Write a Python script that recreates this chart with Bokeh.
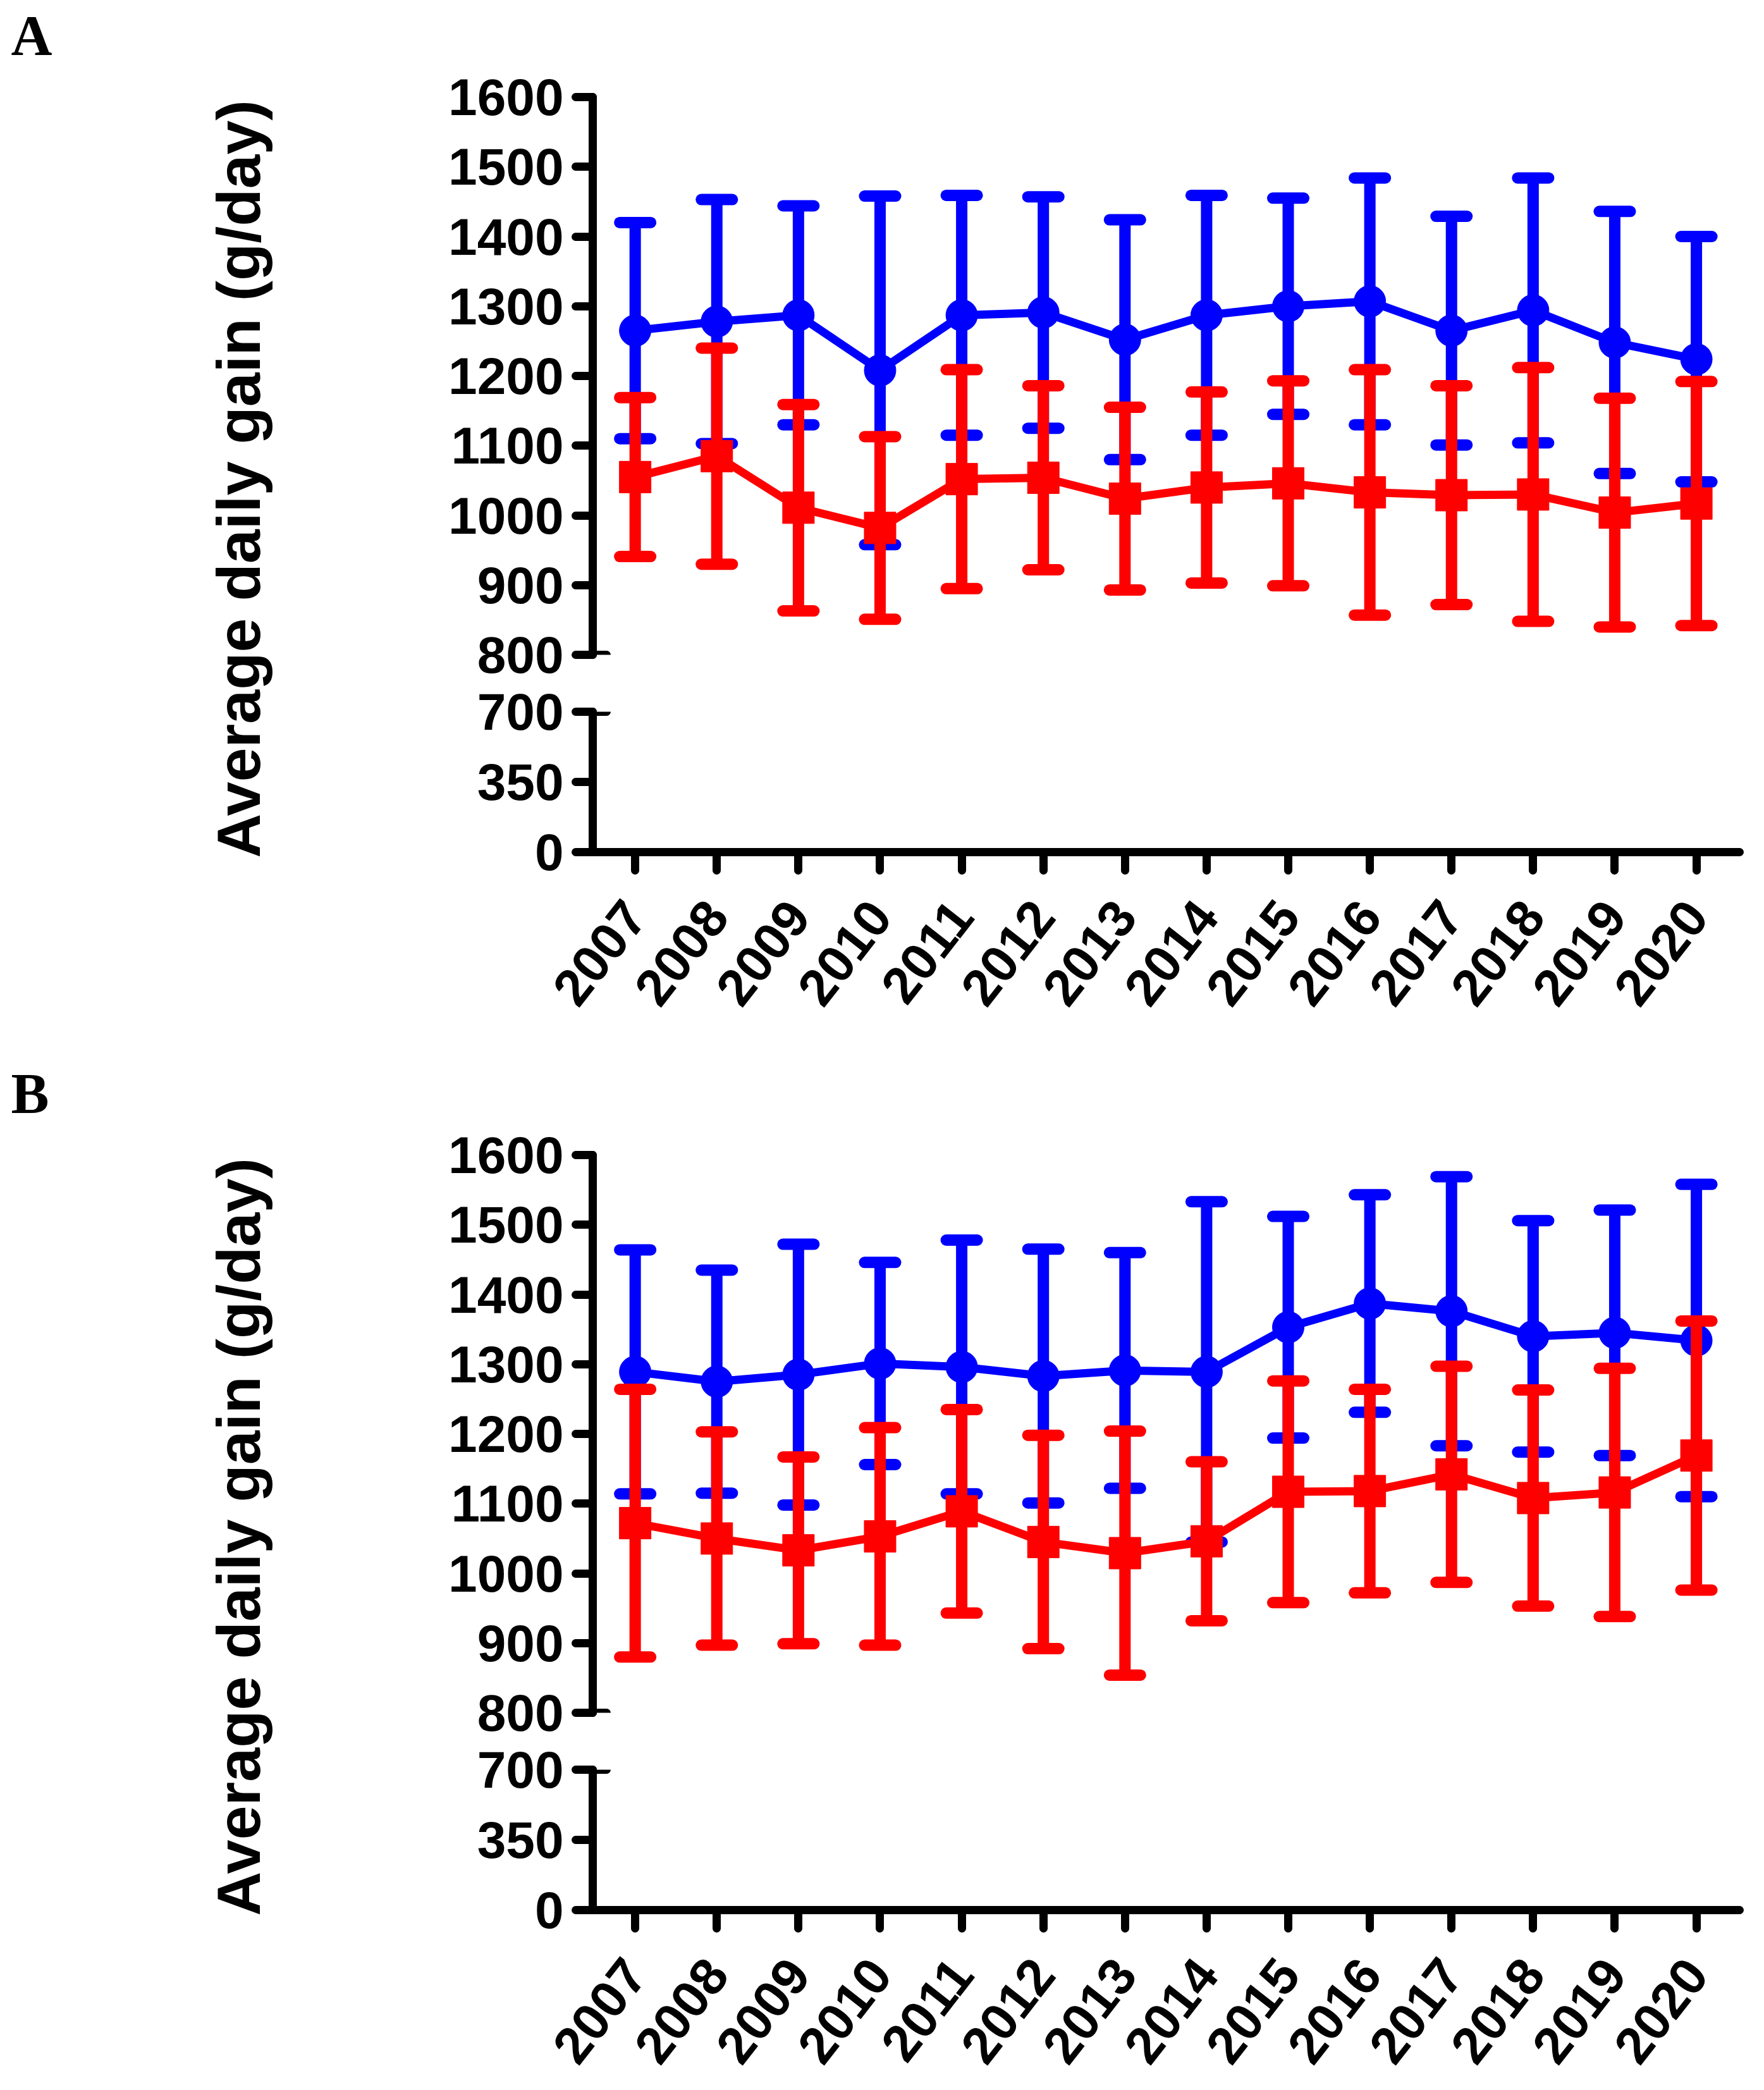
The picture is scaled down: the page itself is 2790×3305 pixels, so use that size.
import math
from bokeh.plotting import figure
from bokeh.layouts import row, column
from bokeh.models import Range1d, FixedTicker, ColumnDataSource
from bokeh.core.properties import value
from bokeh.embed import file_html
from bokeh.resources import INLINE

years = list(range(2007, 2021))

a_blue_mean = [1265, 1278, 1287, 1208, 1287, 1291, 1252, 1287, 1300, 1307, 1265, 1294, 1248, 1224]
a_blue_sd = [155, 175, 157, 250, 172, 166, 172, 172, 155, 177, 164, 190, 188, 176]
a_red_mean = [1055, 1085, 1011, 982, 1052, 1054, 1024, 1040, 1046, 1033, 1029, 1030, 1004, 1017]
a_red_sd = [114, 155, 148, 131, 157, 132, 131, 137, 147, 176, 157, 182, 164, 175]

b_blue_mean = [1289, 1275, 1285, 1301, 1296, 1283, 1291, 1289, 1353, 1387, 1376, 1340, 1345, 1334]
b_blue_sd = [175, 160, 187, 145, 182, 182, 169, 244, 159, 156, 193, 166, 176, 224]
b_red_mean = [1072, 1050, 1033, 1053, 1089, 1045, 1029, 1046, 1117, 1118, 1142, 1108, 1116, 1169]
b_red_sd = [192, 153, 134, 156, 146, 153, 175, 114, 159, 146, 155, 155, 178, 193]

upper_ticks = [800, 900, 1000, 1100, 1200, 1300, 1400, 1500, 1600]
lower_ticks = [0, 350, 700]
y_label = "Average daily gain (g/day)"

BLUE = "#0000FF"
RED = "#FF0000"
FONT = "Liberation Sans"
X0, X1 = 2006.48, 2020.53
CAP = 0.19

LBL_W = 500
FIG_W = 2271
B_LEFT = 437
TOP_H = 1080
TOP_BT = 153
TOP_BB = 45
LOW_BT = 45


def style_axis(ax):
    ax.axis_line_width = 13
    ax.axis_line_color = "black"
    ax.axis_line_cap = "round"
    ax.major_tick_line_width = 13
    ax.major_tick_line_color = "black"
    ax.major_tick_line_cap = "round"
    ax.major_tick_out = 27
    ax.major_tick_in = 0
    ax.minor_tick_line_color = None
    ax.major_label_text_font = FONT
    ax.major_label_text_font_style = "bold"
    ax.major_label_text_font_size = "82px"
    ax.major_label_text_color = "black"
    ax.major_label_standoff = 19


def base_fig(h, yr, bt, bb, xloc):
    p = figure(width=FIG_W, height=h, x_range=Range1d(X0, X1), y_range=yr,
               output_backend="svg", toolbar_location=None,
               min_border_left=B_LEFT, min_border_right=20,
               min_border_top=bt, min_border_bottom=bb,
               x_axis_location=xloc)
    p.grid.visible = False
    p.outline_line_color = None
    p.background_fill_color = "white"
    p.border_fill_color = "white"
    return p


def add_series(p, mean, sd, color, marker, size):
    lo = [m - s for m, s in zip(mean, sd)]
    hi = [m + s for m, s in zip(mean, sd)]
    src = ColumnDataSource(dict(x=years, m=mean, lo=lo, hi=hi,
                                cl=[y - CAP for y in years], cr=[y + CAP for y in years]))
    p.segment(x0="x", y0="lo", x1="x", y1="hi", source=src, line_color=color, line_width=18)
    p.segment(x0="cl", y0="hi", x1="cr", y1="hi", source=src, line_color=color, line_width=18, line_cap="round")
    p.segment(x0="cl", y0="lo", x1="cr", y1="lo", source=src, line_color=color, line_width=18, line_cap="round")
    p.line("x", "m", source=src, line_color=color, line_width=13)
    p.scatter("x", "m", source=src, marker=marker, size=size, fill_color=color, line_color=color)


def panel(letter, bm, bs, rm, rs, low_bb):
    low_h = LOW_BT + 222 + low_bb
    top = base_fig(TOP_H, Range1d(800, 1600), TOP_BT, TOP_BB, None)
    top.yaxis.ticker = FixedTicker(ticks=upper_ticks)
    style_axis(top.yaxis[0])
    add_series(top, bm, bs, BLUE, "circle", 50)
    add_series(top, rm, rs, RED, "square", 50)
    top.segment(x0=[X0], y0=[upper_ticks[0]], x1=[X0 + 0.17], y1=[upper_ticks[0]],
                line_color="black", line_width=13, line_cap="round")

    low = base_fig(low_h, Range1d(0, 700), LOW_BT, low_bb, "below")
    low.yaxis.ticker = FixedTicker(ticks=lower_ticks)
    low.xaxis.ticker = FixedTicker(ticks=years)
    low.xaxis.major_label_orientation = math.radians(52)
    style_axis(low.yaxis[0])
    style_axis(low.xaxis[0])
    low.xaxis.major_tick_out = 29
    low.xaxis.major_label_standoff = 58
    low.segment(x0=[X0], y0=[lower_ticks[-1]], x1=[X0 + 0.17], y1=[lower_ticks[-1]],
                line_color="black", line_width=13, line_cap="round")

    H = TOP_H + low_h
    lf = figure(width=LBL_W, height=H, x_range=Range1d(0, LBL_W), y_range=Range1d(H, 0),
                output_backend="svg", toolbar_location=None, min_border=0,
                x_axis_location=None, y_axis_location=None)
    lf.grid.visible = False
    lf.outline_line_color = None
    lf.text(x=[377], y=[757], text=[y_label], angle=math.pi / 2,
            text_align="center", text_baseline="middle",
            text_font=value(FONT), text_font_style="bold", text_font_size="97px",
            text_color="black")
    lf.text(x=[17], y=[56], text=[letter], text_align="left", text_baseline="alphabetic",
            text_font=value("Liberation Serif"), text_font_style="bold", text_font_size="90px",
            text_color="black")
    return row(lf, column(top, low))


pa = panel("A", a_blue_mean, a_blue_sd, a_red_mean, a_red_sd, 326)
pb = panel("B", b_blue_mean, b_blue_sd, b_red_mean, b_red_sd, 277)
layout = column(pa, pb)

open("out.html", "w").write(file_html(layout, INLINE))
